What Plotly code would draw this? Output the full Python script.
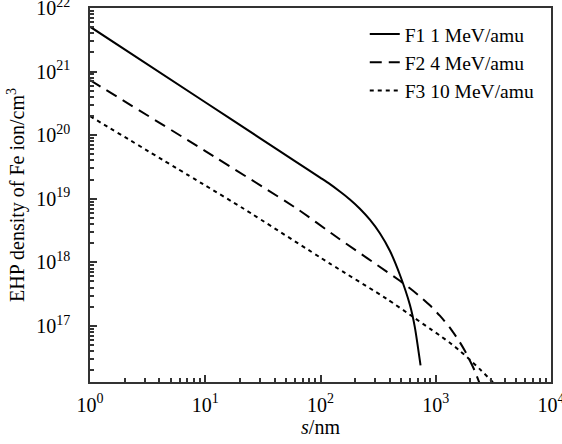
import plotly.graph_objects as go

# ---- data ----
f1_s = [1, 10, 30, 60, 100, 120, 147.3, 179.9, 219.7, 268.2, 327.5, 399.9,
        488.3, 596.3, 658.9, 738.2]
f1_n = [5.08e21, 3.29e20, 8.91e19, 3.90e19, 2.13e19, 1.71e19, 1.30e19, 9.75e18,
        6.98e18, 4.69e18, 2.87e18, 1.52e18, 6.38e17, 2.15e17, 9.51e16, 2.39e16]

f2_s = [1, 9.94, 62.1, 138, 488.3, 596.3, 728.1, 888.9, 1085, 1325, 1618,
        1788, 1976, 2183, 2413]
f2_n = [7.35e20, 5.66e19, 7.02e18, 2.50e18, 5.13e17, 3.91e17, 2.92e17, 2.11e17,
        1.45e17, 9.38e16, 5.54e16, 4.06e16, 2.86e16, 1.95e16, 1.22e16]

f3_s = [1, 9.61, 21.4, 120.7, 374, 637, 888.9, 1085, 1325, 1618, 1976, 2413,
        2946, 3321]
f3_n = [1.99e20, 1.69e19, 7.02e18, 9.55e17, 2.68e17, 1.38e17, 9.07e16, 7.06e16,
        5.44e16, 4.06e16, 2.94e16, 2.09e16, 1.46e16, 1.18e16]

names = ["F1 1 MeV/amu", "F2 4 MeV/amu", "F3 10 MeV/amu"]

x_major = [1.0, 10.0, 100.0, 1000.0, 10000.0]
x_major_text = ["10<sup>0</sup>", "10<sup>1</sup>", "10<sup>2</sup>", "10<sup>3</sup>", "10<sup>4</sup>"]
y_major = [1e17, 1e18, 1e19, 1e20, 1e21, 1e22]
y_major_text = ["10<sup>17</sup>", "10<sup>18</sup>", "10<sup>19</sup>",
                "10<sup>20</sup>", "10<sup>21</sup>", "10<sup>22</sup>"]

x_minor = [float(m) * 10.0 ** e for e in range(0, 4) for m in range(2, 10)]
y_minor = [float(m) * 10.0 ** e for e in range(16, 22) for m in range(2, 10)]

X_RANGE = [0, 4]
Y_RANGE = [16.118, 22]
FONT = "Liberation Serif"

fig = go.Figure()
fig.add_trace(go.Scatter(x=f1_s, y=f1_n, mode="lines", name=names[0],
                         line=dict(color="black", width=2, shape="spline", smoothing=0.6)))
fig.add_trace(go.Scatter(x=f2_s, y=f2_n, mode="lines", name=names[1],
                         line=dict(color="black", width=2, dash="12px,7px", shape="spline", smoothing=0.6)))
fig.add_trace(go.Scatter(x=f3_s, y=f3_n, mode="lines", name=names[2],
                         line=dict(color="black", width=2, dash="4px,4px", shape="spline", smoothing=0.6)))
# empty trace so the overlay axes (carrying the minor ticks) are drawn
fig.add_trace(go.Scatter(x=[], y=[], xaxis="x2", yaxis="y2", showlegend=False,
                         hoverinfo="skip"))

fig.update_layout(
    width=562, height=444,
    margin=dict(l=90, r=11, t=8, b=62),
    paper_bgcolor="white", plot_bgcolor="white",
    font=dict(family=FONT, size=20, color="black"),
    xaxis=dict(type="log", range=X_RANGE, tickmode="array", tickvals=x_major,
               ticktext=x_major_text,
               showgrid=False, zeroline=False, showline=True, linecolor="#333", linewidth=1.5,
               mirror=True, ticks="inside", ticklen=7, tickwidth=1.5, tickcolor="#333",
               tickfont=dict(family=FONT, size=20, color="black"), automargin=False,
               ticklabeloverflow="allow", ticklabelstandoff=4,
               title=dict(text="<i>s</i>/nm", font=dict(family=FONT, size=20, color="black"),
                          standoff=0)),
    yaxis=dict(type="log", range=Y_RANGE, tickmode="array", tickvals=y_major,
               ticktext=y_major_text,
               showgrid=False, zeroline=False, showline=True, linecolor="#333", linewidth=1.5,
               mirror=True, ticks="inside", ticklen=7, tickwidth=1.5, tickcolor="#333",
               tickfont=dict(family=FONT, size=20, color="black"), automargin=False,
               ticklabeloverflow="allow", ticklabelstandoff=14,
               title=dict(text="EHP density of Fe ion/cm<sup>3</sup>",
                          font=dict(family=FONT, size=20, color="black"), standoff=6)),
    xaxis2=dict(type="log", range=X_RANGE, overlaying="x", anchor="y", side="bottom",
                tickmode="array", tickvals=x_minor, showticklabels=False,
                ticks="inside", ticklen=4, tickwidth=1.5, tickcolor="#333",
                showgrid=False, zeroline=False, showline=False, automargin=False),
    yaxis2=dict(type="log", range=Y_RANGE, overlaying="y", anchor="x", side="left",
                tickmode="array", tickvals=y_minor, showticklabels=False,
                ticks="inside", ticklen=4, tickwidth=1.5, tickcolor="#333",
                showgrid=False, zeroline=False, showline=False, automargin=False),
    legend=dict(x=0.596, y=0.982, xanchor="left", yanchor="top",
                bgcolor="rgba(0,0,0,0)", borderwidth=0,
                font=dict(family=FONT, size=19.5, color="black")),
)

fig.write_html("out.html", config={"displayModeBar": False},
               post_script="document.body.style.margin='0px';")
